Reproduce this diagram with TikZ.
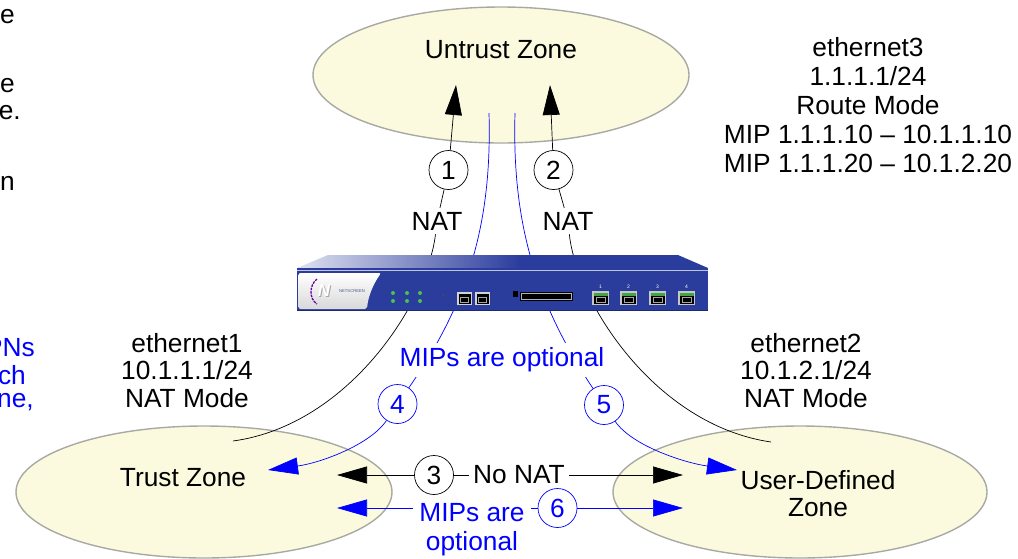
\documentclass[tikz,border=0pt]{standalone}
\usepackage{fontspec}
\setmainfont{Liberation Sans}
\usetikzlibrary{shapes.geometric,arrows.meta}

\definecolor{zonefill}{HTML}{FBFADF}
\definecolor{zoneedge}{HTML}{A9A9A4}
\definecolor{devblue}{HTML}{2A3C9C}
\definecolor{mipblue}{HTML}{0000FF}
\definecolor{ledgreen}{HTML}{4CC24C}

\begin{document}
\begin{tikzpicture}[x=1pt,y=-1pt,
  font=\fontsize{26.3pt}{27.5pt}\selectfont,
  zone/.style={ellipse, draw=zoneedge, fill=zonefill, line width=1.4pt, inner sep=0pt},
  lbl/.style={inner sep=4pt, align=center},
  frag/.style={inner sep=0pt, anchor=east},
  num/.style={circle, draw=black, fill=white, line width=0.7pt, minimum size=39pt, inner sep=0pt},
  bnum/.style={num, draw=mipblue, text=mipblue},
  wire/.style={line width=0.7pt},
  bwire/.style={line width=0.7pt, draw=mipblue},
  tipk/.style={-{Triangle[length=30pt,width=17pt]}},
  tipb/.style={-{Triangle[length=30pt,width=17pt]}, mipblue},
  tiny/.style={inner sep=0pt, font=\fontsize{5pt}{5pt}\selectfont},
]
\useasboundingbox (0,0) rectangle (1018,558);

% ---------- zones ----------
\node[zone, minimum width=376pt, minimum height=136pt] (untrust) at (501,75) {};
\node[zone, minimum width=376pt, minimum height=132pt] (trust) at (204,492) {};
\node[zone, minimum width=374pt, minimum height=132pt] (userzone) at (800,492) {};
\node[lbl] (untrustname) at (501,50) {Untrust Zone};
\node[lbl] (trustname) at (183,478) {Trust Zone};
\node[lbl] (username) at (818,493.5) {User-Defined\\Zone};

% ---------- interface captions ----------
\node[lbl, font=\fontsize{26.3pt}{29pt}\selectfont] (eth3) at (868,105)
  {ethernet3\\1.1.1.1/24\\Route Mode\\MIP 1.1.1.10 – 10.1.1.10\\MIP 1.1.1.20 – 10.1.2.20};
\node[lbl] (eth1) at (187,370.5) {ethernet1\\10.1.1.1/24\\NAT Mode};
\node[lbl] (eth2) at (806,370.5) {ethernet2\\10.1.2.1/24\\NAT Mode};

% ---------- text running in from the left ----------
\node[frag] (fragA) at (15,17) {e};
\node[frag] (fragB) at (15,86) {e};
\node[frag] (fragC) at (21,113) {e.};
\node[frag] (fragD) at (15,183) {n};
\node[frag, text=mipblue] (fragE) at (35,348) {PNs};
\node[frag, text=mipblue] (fragF) at (26,375) {ch};
\node[frag, text=mipblue] (fragG) at (34,402) {ne,};

% ---------- free ends ----------
\coordinate (tip1) at (456,85);
\coordinate (tip2) at (550,85);
\coordinate (nat1end) at (233,441);
\coordinate (nat2end) at (771,442);
\coordinate (mipL) at (489,113);
\coordinate (mipR) at (515,113);
\coordinate (tip4) at (268,470);
\coordinate (tip5) at (737,470);
\coordinate (tip3l) at (337,475);
\coordinate (tip3r) at (683,475);
\coordinate (tip6l) at (337,508);
\coordinate (tip6r) at (683,508);

% ---------- numbered flows ----------
\node[num] (c1) at (448.5,170) {1};
\node[num] (c2) at (553.5,170) {2};
\node[num] (c3) at (434,475) {3};
\node[bnum] (c4) at (397.5,404) {4};
\node[bnum] (c5) at (604,405) {5};
\node[bnum] (c6) at (557.5,508) {6};

\node[lbl] (nat1) at (437,221) {NAT};
\node[lbl] (nat2) at (568,221) {NAT};
\node[lbl, inner sep=4pt] (nonat) at (519,475) {No NAT};
\node[lbl, text=mipblue, inner sep=6pt, font=\fontsize{26.3pt}{29pt}\selectfont] (mips2) at (472,530) {MIPs are\\optional};

% flows 1 and 2: outbound with NAT
\draw[wire, tipk] (c1) -- (tip1);
\draw[wire, tipk] (c2) -- (tip2);
\draw[wire] (c1) -- (nat1);
\draw[wire] (c2) -- (nat2);
\draw[wire] (nat1) .. controls (428,300) and (350,425) .. (nat1end);
\draw[wire] (nat2) .. controls (576,300) and (654,425) .. (nat2end);

% flows 4 and 5: inbound through MIPs
\draw[bwire] (mipL) .. controls (492,220) and (470,300) .. (c4);
\draw[bwire] (mipR) .. controls (512,220) and (534,300) .. (c5);
\draw[bwire, tipb] (c4) .. controls (370,445) and (320,463) .. (tip4);
\draw[bwire, tipb] (c5) .. controls (632,446) and (685,463) .. (tip5);

% flow 3: between internal zones, no NAT
\draw[wire, tipk] (c3) -- (tip3l);
\draw[wire] (c3) -- (nonat);
\draw[wire, tipk] (nonat) -- (tip3r);

% flow 6: between internal zones, optional MIPs
\draw[bwire, tipb] (mips2.west |- tip6l) -- (tip6l);
\draw[bwire] (mips2.east |- c6) -- (c6);
\draw[bwire, tipb] (c6) -- (tip6r);

% ---------- security appliance ----------
% top face: pale on the left, full blue towards the right
\fill[devblue] (520,255) -- (678,255) -- (708,268) -- (520,268) -- cycle;
\shade[left color=white!85!devblue, right color=devblue]
  (297,268) -- (328,255) -- (521,255) -- (521,268) -- cycle;
\fill[devblue] (297,268) rectangle (708,311);
\draw[white!70!devblue, line width=0.8pt] (297,270.5) -- (708,270.5);
\draw[devblue!70!black, line width=0.6pt] (297,310.7) -- (708,310.7);

% logo plate
\shade[top color=white, bottom color=gray!30, rounded corners=2pt]
  (298.5,273) -- (381,273) .. controls (372,286) and (368,298) .. (367,309) -- (298.5,309) -- cycle;
\draw[violet!80!blue, line width=1.3pt, dash pattern=on 2.5pt off 1pt]
  (317,279) .. controls (309,285) and (309,299) .. (317,304);
\node[inner sep=0pt, font=\fontsize{17pt}{17pt}\selectfont\bfseries\itshape, text=gray!70] (logoshade) at (325,292) {N};
\node[inner sep=0pt, font=\fontsize{17pt}{17pt}\selectfont\bfseries\itshape, text=white] (logoN) at (324,291) {N};
\node[tiny, font=\fontsize{4.2pt}{4.2pt}\selectfont, text=devblue!60!gray] (brand) at (352,291.5) {NETSCREEN};

% status LEDs
\foreach \x in {393,407,420}
  \foreach \y in {293,301}
    \fill[ledgreen] (\x,\y) circle (2);
\fill[black!70] (443,295) circle (1.2);

% console and modem jacks
\foreach \x in {457,475} {
  \fill[gray!35] (\x,292) rectangle ++(15,13);
  \fill[black] (\x+1.5,293.5) rectangle ++(12,10);
  \draw[gray!70, line width=0.5pt] (\x+3.5,297) -- (\x+11.5,297) -- (\x+11.5,302) -- (\x+3.5,302) -- cycle;
}

% card slot
\fill[black] (513,291) rectangle (518,297);
\fill[black] (520,292) rectangle (573,301);
\draw[gray!60, line width=0.4pt] (521.5,293.5) rectangle (571.5,299.5);

% ethernet ports
\foreach \x/\n in {592/1,620/2,649/3,678/4} {
  \fill[gray!45] (\x,291) rectangle ++(17,14);
  \fill[ledgreen!85!black] (\x+1.5,292.5) rectangle ++(14,3);
  \fill[black] (\x+1.5,295.5) rectangle ++(14,8);
  \draw[gray!70, line width=0.5pt] (\x+4,297.5) -- (\x+13,297.5) -- (\x+13,302) -- (\x+4,302) -- cycle;
  \node[tiny, text=white] (port\n) at (\x+8.5,286.5) {\n};
}

% label over the two MIP paths
\node[lbl, text=mipblue, fill=white, inner sep=5pt] (mips1) at (502,360) {MIPs are optional};

\end{tikzpicture}
\end{document}
